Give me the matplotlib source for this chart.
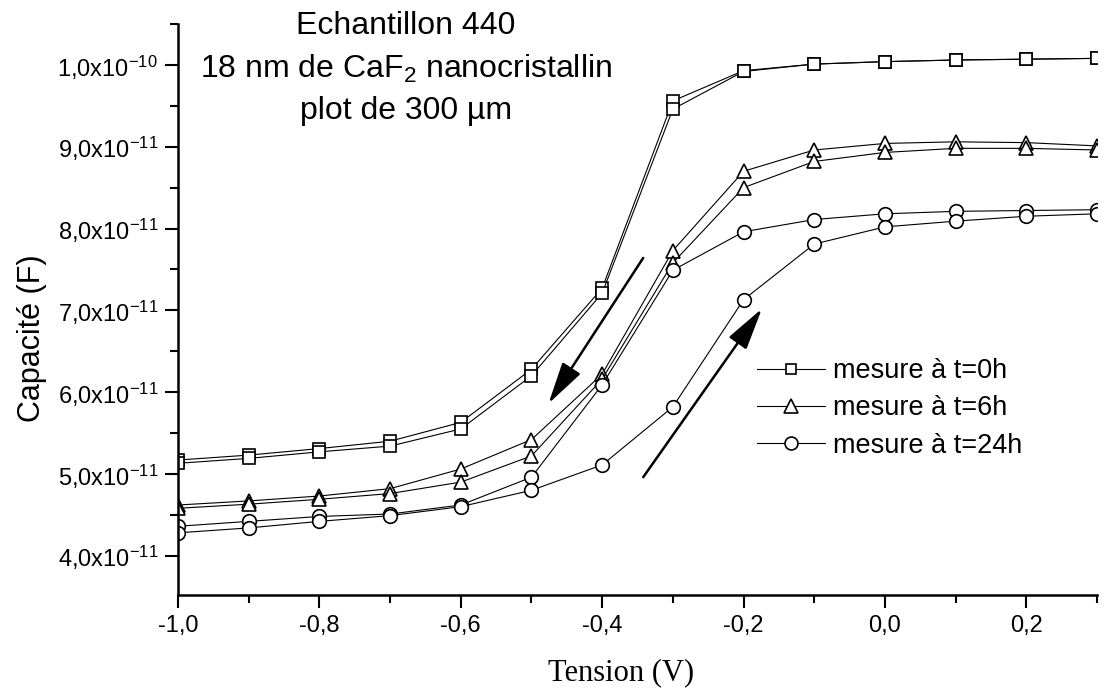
import matplotlib
matplotlib.use("Agg")
import matplotlib.pyplot as plt
from matplotlib.ticker import MultipleLocator, FuncFormatter
import numpy as np

# ── data (capacitance in units of 1e-11 F) ─────────────────────────────────
tension = [-1.0, -0.9, -0.8, -0.7, -0.6, -0.5, -0.4, -0.3, -0.2, -0.1, 0.0, 0.1, 0.2, 0.3]

# t = 0h, two sweeps
cap_0h_a = [5.17, 5.23, 5.31, 5.40, 5.63, 6.28, 7.27, 9.56, 9.93, 10.01, 10.04, 10.06, 10.07, 10.08]
cap_0h_b = [5.13, 5.19, 5.27, 5.34, 5.55, 6.20, 7.21, 9.46, 9.92, 10.01, 10.04, 10.06, 10.07, 10.08]
# t = 6h
cap_6h_a = [4.62, 4.67, 4.73, 4.82, 5.06, 5.42, 6.22, 7.73, 8.70, 8.96, 9.04, 9.06, 9.05, 9.01]
cap_6h_b = [4.58, 4.63, 4.69, 4.76, 4.90, 5.22, 6.16, 7.58, 8.50, 8.82, 8.93, 8.98, 8.98, 8.96]
# t = 24h
cap_24h_a = [4.36, 4.42, 4.48, 4.51, 4.62, 4.96, 6.09, 7.49, 7.96, 8.11, 8.18, 8.21, 8.22, 8.23]
cap_24h_b = [4.28, 4.34, 4.42, 4.49, 4.60, 4.80, 5.11, 5.82, 7.13, 7.81, 8.02, 8.09, 8.15, 8.18]

SCALE = 1e-11
labels = ["mesure à t=0h", "mesure à t=6h", "mesure à t=24h"]

plt.rcParams.update({
    "font.family": ["Liberation Sans", "DejaVu Sans"],
    "mathtext.fontset": "custom",
    "mathtext.rm": "Liberation Sans",
    "mathtext.it": "Liberation Sans:italic",
    "mathtext.bf": "Liberation Sans:bold",
})

fig = plt.figure(figsize=(11.1, 6.9), dpi=100)
ax = fig.add_axes([0.1604, 0.1377, 0.8279, 0.8275])

series = [
    ((cap_0h_a, cap_0h_b), "s", 8.0),
    ((cap_6h_a, cap_6h_b), "^", 10.5),
    ((cap_24h_a, cap_24h_b), "o", 9.8),
]
x = np.array(tension)
for (curves, marker, ms), lab in zip(series, labels):
    for i, c in enumerate(curves):
        ax.plot(x, np.array(c) * SCALE, color="black", lw=0.8,
                marker=marker, ms=ms, mfc="white", mec="black", mew=1.2,
                label=lab if i == 0 else None)

# sweep direction arrows
arrow_kw = dict(arrowstyle="-|>,head_length=1.3,head_width=0.33",
                color="black", lw=1.8, mutation_scale=20, shrinkA=0, shrinkB=0)
ax.annotate("", xy=(-0.476, 5.86 * SCALE), xytext=(-0.342, 7.64 * SCALE), arrowprops=arrow_kw)
ax.annotate("", xy=(-0.174, 7.02 * SCALE), xytext=(-0.342, 4.96 * SCALE), arrowprops=arrow_kw)

ax.set_xlim(-1.0, 0.3)
ax.set_ylim(3.52 * SCALE, 10.5 * SCALE)

ax.xaxis.set_major_locator(MultipleLocator(0.2))
ax.xaxis.set_minor_locator(MultipleLocator(0.1))
ax.yaxis.set_major_locator(MultipleLocator(1e-11))
ax.yaxis.set_minor_locator(MultipleLocator(0.5e-11))


def fmt_x(v, pos):
    return f"{v:.1f}".replace(".", ",").replace("-0,0", "0,0")


def fmt_y(v, pos):
    m = v / SCALE
    if round(m) >= 10:
        return r"1,0x10$^{\mathregular{-10}}$"
    return f"{m:.1f}".replace(".", ",") + r"x10$^{\mathregular{-11}}$"


ax.xaxis.set_major_formatter(FuncFormatter(fmt_x))
ax.yaxis.set_major_formatter(FuncFormatter(fmt_y))
ax.yaxis.offsetText.set_visible(False)
ax.xaxis.offsetText.set_visible(False)

for side in ("top", "right"):
    ax.spines[side].set_visible(False)
for side in ("left", "bottom"):
    ax.spines[side].set_linewidth(1.8)
ax.tick_params(which="major", direction="out", length=9.5, width=1.5, labelsize=17, pad=5)
ax.tick_params(which="minor", direction="out", length=5.5, width=1.5)

ax.set_xlabel("Tension (V)", family="Liberation Serif", fontsize=22)
ax.xaxis.set_label_coords(0.5 - 16 / 919, -0.11)
ax.set_ylabel("Capacité (F)", fontsize=22)
ax.yaxis.set_label_coords(-0.143, 0.45)

ax.text(0.248, 1.022, "Echantillon 440\n18 nm de CaF$_2$ nanocristallin\nplot de 300 µm",
        transform=ax.transAxes, ha="center", va="top", fontsize=23, linespacing=1.46)

ax.legend(loc="upper left", bbox_to_anchor=(0.630, 0.415), frameon=False,
          fontsize=19.5, handlelength=2.5, handletextpad=0.3, labelspacing=0.42,
          borderpad=0, borderaxespad=0, markerscale=0.95)

fig.savefig("out.png", dpi=100)
